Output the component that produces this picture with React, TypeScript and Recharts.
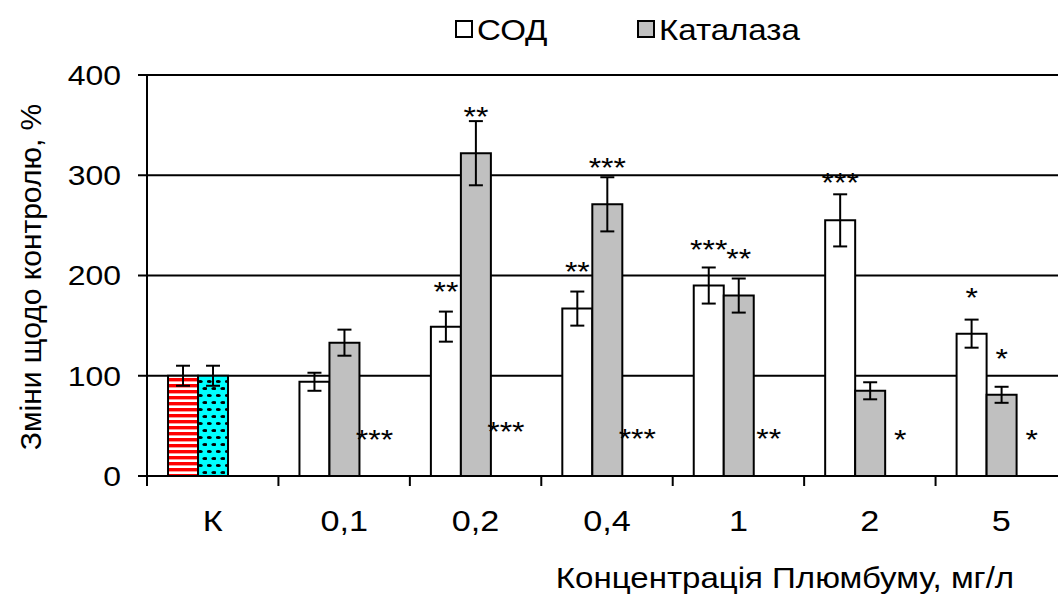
import { Bar, BarChart, CartesianGrid, Cell, ErrorBar, LabelList, XAxis, YAxis } from "recharts";

// categories (Pb concentration, mg/l)
const categories = ["К", "0,1", "0,2", "0,4", "1", "2", "5"];

// СОД, % of control
const sodValues = [100, 94, 149, 167, 190, 255, 142];
const sodErrors = [10, 9, 15, 17, 18, 26, 14];
const sodMarks = ["", "", "**", "**", "***", "***", "*"];
const sodMarkPos = [null, null, 187, 206, 228, 295, 181];

// Каталаза, % of control
const catValues = [100, 133, 322, 271, 180, 85, 81];
const catErrors = [10, 13, 32, 27, 17, 8.5, 8];
const catMarks = ["", "", "**", "***", "**", "", "*"];
const catMarkPos = [null, null, 361, 310, 219, null, 120];

// marks placed in the empty third slot of each group
const sideMarks = ["", "***", "***", "***", "**", "*", "*"];
const sideMarkPos = [null, 39, 47, 40, 40, 39, 39];

const yTicks = [0, 100, 200, 300, 400];

const data = categories.map((name, i) => ({
  name,
  sod: sodValues[i],
  sodErr: sodErrors[i],
  cat: catValues[i],
  catErr: catErrors[i],
  side: sideMarkPos[i],
  sideMark: sideMarks[i],
}));

const FONT = '"Liberation Sans", Arial, sans-serif';
const STRETCH = 1.14; // the source picture is a bit wider than tall
const W = 1080;
const H = 596;
const MARGIN = { top: 75, right: 13, bottom: 60, left: 0 };
const Y_AXIS_W = 147;
const X_AXIS_H = 60;
const band = (W - MARGIN.left - MARGIN.right - Y_AXIS_W) / categories.length;

const Stretched = ({
  x,
  y,
  size,
  anchor = "middle",
  children,
}: {
  x: number;
  y: number;
  size: number;
  anchor?: "start" | "middle" | "end";
  children: any;
}) => (
  <text
    transform={`translate(${x} ${y}) scale(${STRETCH} 1)`}
    textAnchor={anchor}
    dominantBaseline="central"
    fontSize={size}
    fontFamily={FONT}
    fill="#000"
  >
    {children}
  </text>
);

const Star = ({ x, cy, text }: { x: number; cy: number; text: string }) => (
  <text
    transform={`translate(${x} ${cy + 12}) scale(${STRETCH} 1)`}
    textAnchor="middle"
    fontSize={28}
    fontFamily={FONT}
    fill="#000"
  >
    {text}
  </text>
);

const markLabel =
  (marks: string[], positions: (number | null)[], values: number[]) => (props: any) => {
    const vb = props.viewBox ?? props;
    const { x, y, width, height } = vb;
    const i = props.index;
    const text = marks[i];
    const pos = positions[i];
    if (!text || pos == null || !height) return null;
    const ppu = height / values[i];
    return <Star x={x + width / 2} cy={y + height - pos * ppu} text={text} />;
  };

const sideLabel = (props: any) => {
  const vb = props.viewBox ?? props;
  const { x, y, width } = vb;
  if (!props.value) return null;
  return <Star x={x + width / 2} cy={y} text={String(props.value)} />;
};

const CategoryTick = (props: any) => {
  const { x, y, payload, index } = props;
  const left = x - band / 2;
  return (
    <g>
      <line x1={left} x2={left} y1={y} y2={y + 10} stroke="#000" strokeWidth={2} />
      {index === categories.length - 1 && (
        <line x1={x + band / 2} x2={x + band / 2} y1={y} y2={y + 10} stroke="#000" strokeWidth={2} />
      )}
      <Stretched x={x} y={y + 45} size={30}>
        {payload.value}
      </Stretched>
    </g>
  );
};

const ValueTick = (props: any) => {
  const { x, y, payload } = props;
  return (
    <Stretched x={x} y={y} size={28} anchor="end">
      {payload.value}
    </Stretched>
  );
};

export default function App() {
  return (
    <div
      style={{
        position: "absolute",
        left: 0,
        top: 0,
        width: 1058,
        height: 596,
        overflow: "hidden",
        background: "#fff",
        fontFamily: FONT,
      }}
    >
      <BarChart
        width={W}
        height={H}
        data={data}
        margin={MARGIN}
        barCategoryGap="16%"
        barGap={0}
      >
        <defs>
          <pattern id="stripes" patternUnits="userSpaceOnUse" width={8} height={6}>
            <rect width={8} height={6} fill="#fff" />
            <rect width={8} height={3.4} fill="#ff0000" />
          </pattern>
          <pattern id="dots" patternUnits="userSpaceOnUse" width={9} height={14}>
            <rect width={9} height={14} fill="#00ffff" />
            <ellipse cx={2.3} cy={3.5} rx={2.5} ry={1.6} fill="#000" />
            <ellipse cx={6.8} cy={10.5} rx={2.5} ry={1.6} fill="#000" />
          </pattern>
        </defs>
        <CartesianGrid vertical={false} stroke="#000" strokeWidth={2} />
        <XAxis
          dataKey="name"
          height={X_AXIS_H}
          tickLine={false}
          tickSize={0}
          tickMargin={0}
          axisLine={{ stroke: "#000", strokeWidth: 2 }}
          tick={<CategoryTick />}
          interval={0}
        />
        <YAxis
          width={Y_AXIS_W}
          domain={[0, 400]}
          ticks={yTicks}
          tickSize={9}
          tickMargin={17}
          axisLine={{ stroke: "#000", strokeWidth: 2 }}
          tickLine={{ stroke: "#000", strokeWidth: 2 }}
          tick={<ValueTick />}
        />
        <Bar dataKey="sod" fill="#fff" stroke="#000" strokeWidth={2} isAnimationActive={false}>
          {data.map((_, i) => (
            <Cell key={i} fill={i === 0 ? "url(#stripes)" : "#fff"} />
          ))}
          <ErrorBar dataKey="sodErr" width={7} stroke="#000" strokeWidth={2} isAnimationActive={false} />
          <LabelList dataKey="sod" content={markLabel(sodMarks, sodMarkPos, sodValues)} />
        </Bar>
        <Bar dataKey="cat" fill="#c0c0c0" stroke="#000" strokeWidth={2} isAnimationActive={false}>
          {data.map((_, i) => (
            <Cell key={i} fill={i === 0 ? "url(#dots)" : "#c0c0c0"} />
          ))}
          <ErrorBar dataKey="catErr" width={7} stroke="#000" strokeWidth={2} isAnimationActive={false} />
          <LabelList dataKey="cat" content={markLabel(catMarks, catMarkPos, catValues)} />
        </Bar>
        <Bar dataKey="side" fill="none" stroke="none" isAnimationActive={false}>
          <LabelList dataKey="sideMark" content={sideLabel} />
        </Bar>
      </BarChart>

      <svg
        width={1058}
        height={596}
        style={{ position: "absolute", left: 0, top: 0, pointerEvents: "none" }}
      >
        <rect x={456} y={21} width={16} height={16} fill="#fff" stroke="#000" strokeWidth={2} />
        <Stretched x={477} y={30} size={29} anchor="start">
          СОД
        </Stretched>
        <rect x={638} y={21} width={16} height={16} fill="#c0c0c0" stroke="#000" strokeWidth={2} />
        <Stretched x={659} y={30} size={29} anchor="start">
          Каталаза
        </Stretched>
        <text
          x={30}
          y={277}
          transform="rotate(-90 30 277)"
          textAnchor="middle"
          dominantBaseline="central"
          fontSize={30}
          fontFamily={FONT}
        >
          Зміни щодо контролю, %
        </text>
        <Stretched x={785} y={578} size={29}>
          Концентрація Плюмбуму, мг/л
        </Stretched>
      </svg>
    </div>
  );
}
